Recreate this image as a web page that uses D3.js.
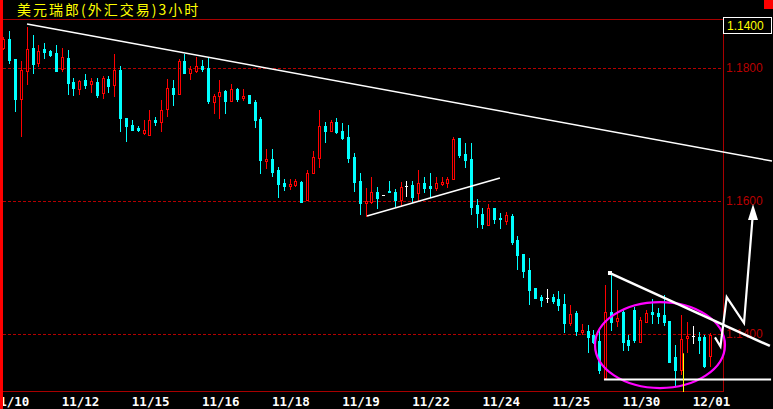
<!DOCTYPE html>
<html><head><meta charset="utf-8">
<script src="https://cdn.jsdelivr.net/npm/d3@7"></script>
<style>html,body{margin:0;padding:0;background:#000;overflow:hidden}</style>
</head><body>
<svg id="c" width="773" height="409"></svg>
<script>
const title = "美元瑞郎(外汇交易)3小时";
const dateLabels = ["11/10","11/12","11/15","11/16","11/18","11/19","11/22","11/24","11/25","11/30","12/01"];
const priceTicks = [1.18, 1.16, 1.14];
const lastPriceLabel = "1.1400";

const opens = [1.1830,1.1844,1.1814,1.1753,1.1795,1.1830,1.1808,1.1829,1.1826,1.1823,
1.1798,1.1815,1.1779,1.1768,1.1782,1.1776,1.1779,1.1762,1.1783,1.1774,
1.1797,1.1725,1.1714,1.1710,1.1702,1.1699,1.1722,1.1719,1.1738,1.1770,
1.1761,1.1811,1.1792,1.1795,1.1803,1.1800,1.1749,1.1758,1.1765,1.1750,
1.1768,1.1755,1.1759,1.1749,1.1723,1.1660,1.1663,1.1647,1.1627,1.1623,
1.1624,1.1629,1.1601,1.1642,1.1665,1.1713,1.1705,1.1719,1.1705,1.1696,
1.1666,1.1630,1.1597,1.1598,1.1614,1.1609,1.1615,1.1614,1.1601,1.1623,
1.1624,1.1612,1.1627,1.1623,1.1620,1.1626,1.1627,1.1633,1.1695,1.1671,
1.1663,1.1594,1.1580,1.1564,1.1589,1.1574,1.1570,1.1577,1.1541,1.1520,
1.1496,1.1469,1.1456,1.1454,1.1456,1.1453,1.1445,1.1417,1.1432,1.1403,
1.1405,1.1398,1.1389,1.1334,1.1433,1.1420,1.1433,1.1391,1.1436,1.1388,
1.1418,1.1433,1.1432,1.1429,1.1420,1.1365,1.1346,1.1394,1.1397,1.1395,
1.1395,1.1367];
const highs = [1.1847,1.1856,1.1814,1.1811,1.1862,1.1850,1.1835,1.1838,1.1827,1.1835,
1.1830,1.1827,1.1785,1.1782,1.1791,1.1785,1.1785,1.1788,1.1788,1.1821,
1.1803,1.1725,1.1722,1.1713,1.1722,1.1737,1.1726,1.1752,1.1783,1.1782,
1.1814,1.1821,1.1803,1.1817,1.1812,1.1815,1.1761,1.1782,1.1767,1.1776,
1.1770,1.1768,1.1759,1.1752,1.1726,1.1678,1.1678,1.1651,1.1633,1.1633,
1.1633,1.1630,1.1647,1.1675,1.1737,1.1719,1.1722,1.1725,1.1717,1.1714,
1.1672,1.1642,1.1620,1.1636,1.1621,1.1609,1.1630,1.1618,1.1629,1.1630,
1.1630,1.1647,1.1636,1.1642,1.1636,1.1636,1.1636,1.1696,1.1695,1.1687,
1.1687,1.1603,1.1589,1.1595,1.1589,1.1582,1.1583,1.1580,1.1547,1.1520,
1.1514,1.1469,1.1459,1.1468,1.1460,1.1465,1.1460,1.1444,1.1435,1.1415,
1.1414,1.1406,1.1407,1.1474,1.1492,1.1466,1.1436,1.1398,1.1441,1.1426,
1.1436,1.1453,1.1439,1.1459,1.1420,1.1383,1.1429,1.1418,1.1412,1.1403,
1.1398,1.1401];
const lows = [1.1827,1.1808,1.1735,1.1696,1.1774,1.1792,1.1802,1.1815,1.1818,1.1795,
1.1794,1.1761,1.1759,1.1759,1.1770,1.1762,1.1756,1.1753,1.1764,1.1756,
1.1705,1.1690,1.1707,1.1705,1.1699,1.1698,1.1714,1.1704,1.1726,1.1744,
1.1759,1.1792,1.1782,1.1792,1.1795,1.1747,1.1731,1.1723,1.1732,1.1749,
1.1750,1.1750,1.1747,1.1711,1.1642,1.1648,1.1638,1.1606,1.1617,1.1617,
1.1621,1.1598,1.1600,1.1641,1.1650,1.1689,1.1704,1.1702,1.1693,1.1659,
1.1615,1.1580,1.1576,1.1595,1.1589,1.1609,1.1614,1.1592,1.1591,1.1608,
1.1598,1.1598,1.1614,1.1606,1.1615,1.1623,1.1620,1.1632,1.1666,1.1651,
1.1580,1.1561,1.1559,1.1564,1.1567,1.1559,1.1564,1.1535,1.1498,1.1486,
1.1445,1.1454,1.1442,1.1448,1.1447,1.1436,1.1403,1.1412,1.1398,1.1398,
1.1373,1.1386,1.1341,1.1334,1.1406,1.1411,1.1376,1.1376,1.1388,1.1388,
1.1417,1.1417,1.1417,1.1414,1.1358,1.1323,1.1338,1.1371,1.1386,1.1371,
1.1350,1.1350];
const closes = [1.1844,1.1812,1.1753,1.1797,1.1829,1.1806,1.1826,1.1824,1.1820,1.1795,
1.1817,1.1777,1.1770,1.1780,1.1774,1.1780,1.1759,1.1785,1.1773,1.1797,
1.1725,1.1713,1.1707,1.1707,1.1707,1.1722,1.1719,1.1737,1.1770,1.1761,
1.1811,1.1792,1.1798,1.1803,1.1798,1.1750,1.1758,1.1764,1.1750,1.1768,
1.1753,1.1758,1.1747,1.1722,1.1662,1.1663,1.1644,1.1626,1.1623,1.1626,
1.1630,1.1598,1.1642,1.1666,1.1713,1.1705,1.1719,1.1704,1.1695,1.1665,
1.1629,1.1597,1.1600,1.1614,1.1605,1.1609,1.1614,1.1601,1.1621,1.1623,
1.1606,1.1627,1.1620,1.1620,1.1627,1.1629,1.1633,1.1693,1.1669,1.1662,
1.1591,1.1582,1.1565,1.1589,1.1573,1.1573,1.1579,1.1538,1.1519,1.1495,
1.1466,1.1454,1.1451,1.1454,1.1450,1.1444,1.1417,1.1430,1.1405,1.1406,
1.1395,1.1388,1.1346,1.1433,1.1418,1.1424,1.1388,1.1383,1.1391,1.1421,
1.1432,1.1430,1.1427,1.1418,1.1358,1.1346,1.1392,1.1397,1.1397,1.1391,
1.1352,1.1398];

// hand-drawn annotations, in (bar index, price) units
const trendLines = [
  [[4.06, 1.18662], [131.56, 1.16601]],
  [[62.25, 1.15774], [85.0, 1.16346]],
  [[103.83, 1.14917], [131.2, 1.13820]]
];
const supportLine = [[102.8, 1.13316], [131.4, 1.13316]];
const arrowPath = [[121.8, 1.1395], [122.74, 1.13812], [123.81, 1.14556], [126.77, 1.14165], [128.31, 1.15834]];
const arrowTip = [128.31, 1.15955];
const ellipseCenter = [112.39, 1.13834];
const ellipseRadius = [11.12, 0.006466];
const cursorLine = [116.4, 1.1371];

const W = 773, H = 409;
const L = 3, R = 723, T = 19, B = 391;
const svg = d3.select("#c");
svg.append("rect").attr("width", W).attr("height", H).attr("fill", "#000");

const x = d3.scaleLinear().domain([0, 121]).range([3.3, 710.3]);
const y = d3.scaleLinear().domain([1.16, 1.18]).range([201, 68]);

const frame = "#a80000";
// grid
const g = svg.append("g");
g.selectAll("line.grid").data(priceTicks).join("line")
  .attr("x1", L).attr("x2", R)
  .attr("y1", d => Math.round(y(d)) + 0.5).attr("y2", d => Math.round(y(d)) + 0.5)
  .attr("stroke", "#b40000").attr("stroke-width", 1).attr("stroke-dasharray", "3,2");

// price labels on the right
const yAxis = d3.axisRight(y).tickValues(priceTicks).tickFormat(d3.format(".4f")).tickSize(0).tickPadding(3);
const ya = svg.append("g").attr("transform", `translate(${R},0)`).call(yAxis);
ya.select(".domain").remove();
ya.selectAll("text").attr("fill", "#b80000").attr("font-family", "Arial, 'Liberation Sans', sans-serif").attr("font-size", 12);

// frame lines
svg.append("line").attr("x1", L).attr("x2", R).attr("y1", T + 0.5).attr("y2", T + 0.5).attr("stroke", frame);
svg.append("line").attr("x1", L).attr("x2", R + 1).attr("y1", B + 0.5).attr("y2", B + 0.5).attr("stroke", frame);
svg.append("line").attr("x1", R + 0.5).attr("x2", R + 0.5).attr("y1", T).attr("y2", B + 1).attr("stroke", frame);

// candles
const data = opens.map((o, i) => ({i, o, h: highs[i], l: lows[i], c: closes[i]}));
const cg = svg.append("g");
data.forEach(d => {
  const cx = Math.round(x(d.i));
  const yo = Math.round(y(d.o)), yc = Math.round(y(d.c));
  const yh = Math.round(y(d.h)), yl = Math.round(y(d.l));
  const top = Math.min(yo, yc), bot = Math.max(yo, yc);
  if (d.c > d.o) {
    const col = "#ff0000";
    if (top > yh) cg.append("line").attr("x1", cx + 0.5).attr("x2", cx + 0.5).attr("y1", yh).attr("y2", top).attr("stroke", col);
    if (yl > bot) cg.append("line").attr("x1", cx + 0.5).attr("x2", cx + 0.5).attr("y1", bot).attr("y2", yl).attr("stroke", col);
    cg.append("rect").attr("x", cx - 0.5).attr("y", top + 0.5).attr("width", 2).attr("height", Math.max(1, bot - top))
      .attr("fill", "none").attr("stroke", col).attr("stroke-width", 1);
  } else if (d.c < d.o) {
    const col = "#00ffff";
    cg.append("line").attr("x1", cx + 0.5).attr("x2", cx + 0.5).attr("y1", yh).attr("y2", yl + 1).attr("stroke", col);
    cg.append("rect").attr("x", cx - 1).attr("y", top).attr("width", 3).attr("height", Math.max(1, bot - top + 1)).attr("fill", col);
  } else {
    const col = "#ffffff";
    if (yl > yh) cg.append("line").attr("x1", cx + 0.5).attr("x2", cx + 0.5).attr("y1", yh).attr("y2", yl + 1).attr("stroke", col);
    cg.append("line").attr("x1", cx - 1).attr("x2", cx + 2).attr("y1", top + 0.5).attr("y2", top + 0.5).attr("stroke", col);
  }
});

// annotations
const line = d3.line().x(p => x(p[0])).y(p => y(p[1]));
const ag = svg.append("g").attr("fill", "none");
ag.append("path").attr("d", line(trendLines[0])).attr("stroke", "#fff").attr("stroke-width", 1.5);
ag.append("path").attr("d", line(trendLines[1])).attr("stroke", "#fff").attr("stroke-width", 1.5);
ag.append("ellipse")
  .attr("cx", x(ellipseCenter[0])).attr("cy", y(ellipseCenter[1]))
  .attr("rx", x(ellipseCenter[0] + ellipseRadius[0]) - x(ellipseCenter[0]))
  .attr("ry", y(ellipseCenter[1] - ellipseRadius[1]) - y(ellipseCenter[1]))
  .attr("stroke", "#ff00ff").attr("stroke-width", 2.2);
ag.append("path").attr("d", line(trendLines[2])).attr("stroke", "#fff").attr("stroke-width", 2.5);
ag.append("rect").attr("x", x(trendLines[2][0][0]) - 2).attr("y", y(trendLines[2][0][1]) - 2).attr("width", 4).attr("height", 4).attr("fill", "#fff");
ag.append("path").attr("d", line(supportLine)).attr("stroke", "#fff").attr("stroke-width", 2);
ag.append("path").attr("d", line(arrowPath)).attr("stroke", "#fff").attr("stroke-width", 2.2).attr("stroke-linejoin", "miter");
const tx = x(arrowTip[0]), ty = y(arrowTip[1]);
ag.append("path").attr("d", `M${tx},${ty}L${tx - 5},${ty + 16}L${tx + 5},${ty + 16}Z`).attr("fill", "#fff");
ag.append("line").attr("x1", Math.round(x(cursorLine[0])) + 0.5).attr("x2", Math.round(x(cursorLine[0])) + 0.5)
  .attr("y1", y(cursorLine[1])).attr("y2", B + 1).attr("stroke", "#ffff00");

// date axis
const xa = svg.append("g");
xa.selectAll("text").data(dateLabels).join("text")
  .attr("x", (d, k) => x(k * 12 - 2))
  .attr("y", 406)
  .attr("fill", "#fff").attr("font-family", "'DejaVu Sans Mono', monospace").attr("font-weight", "bold").attr("font-size", 12.5)
  .text(d => d);

// title
svg.append("text").attr("x", 17).attr("y", 14.5).attr("fill", "#ffff00")
  .attr("font-family", "'Noto Sans CJK SC', sans-serif").attr("font-size", 14).attr("letter-spacing", 2)
  .text(title);

// last price box
svg.append("rect").attr("x", R + 0.5).attr("y", 17.5).attr("width", 48).attr("height", 16).attr("fill", "#000").attr("stroke", "#fff").attr("stroke-width", 1);
svg.append("text").attr("x", 727).attr("y", 30).attr("fill", "#ffff00")
  .attr("font-family", "Arial, 'Liberation Sans', sans-serif").attr("font-size", 12).text(lastPriceLabel);

// left red bar & corner square
svg.append("rect").attr("x", 0).attr("y", 0).attr("width", 3).attr("height", H).attr("fill", "#ff0000");
svg.append("rect").attr("x", 764).attr("y", 0).attr("width", 9).attr("height", 9).attr("fill", "#ff0000");
</script>
</body></html>
